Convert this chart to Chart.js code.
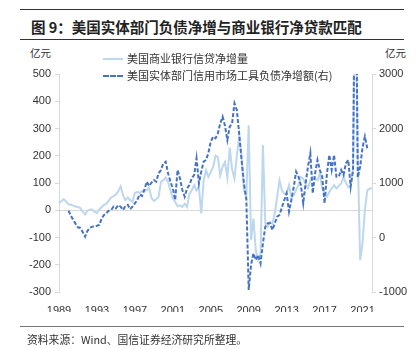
<!DOCTYPE html>
<html>
<head>
<meta charset="utf-8">
<script src="https://cdn.jsdelivr.net/npm/chart.js@4/dist/chart.umd.min.js"></script>
<style>
  body { margin: 0; background: #fff; }
  #wrap { position: relative; width: 419px; height: 349px; font-family: "Noto Sans CJK SC", sans-serif; color: #222; }
  .rule { position: absolute; left: 20px; width: 384px; border-top: 1.5px solid #333; }
  .title { position: absolute; left: 31px; top: 17px; font-size: 14.5px; font-weight: 700; white-space: nowrap; line-height: 20px; }
  .unit { position: absolute; top: 45px; font-size: 10.5px; line-height: 16px; color: #333; }
  .leg { position: absolute; left: 127px; font-size: 11px; line-height: 16px; color: #333; white-space: nowrap; z-index: 2; }
  .swatch { position: absolute; left: 103px; width: 20px; height: 0; z-index: 2; }
  .source { position: absolute; left: 27px; top: 331px; font-size: 10.8px; line-height: 16px; color: #333; white-space: nowrap; }
  canvas { position: absolute; left: 0; top: 0; }
</style>
</head>
<body>
<div id="wrap">
  <div class="rule" style="top:9px"></div>
  <div class="title">图 9：美国实体部门负债净增与商业银行净贷款匹配</div>
  <div class="rule" style="top:39px;border-top-width:1px"></div>
  <div class="unit" style="left:30px">亿元</div>
  <div class="unit" style="left:385px">亿元</div>
  <canvas id="chart" width="419" height="349"></canvas>
  <div class="swatch" style="top:58px;border-top:2px solid #bdd7ee"></div>
  <div class="leg" style="top:50px">美国商业银行信贷净增量</div>
  <div class="swatch" style="top:75px;border-top:2px dashed #4472c4"></div>
  <div class="leg" style="top:67px">美国实体部门信用市场工具负债净增额(右)</div>
  <div class="rule" style="top:326px;border-top:1.5px solid #777"></div>
  <div class="source">资料来源：Wind、国信证券经济研究所整理。</div>
</div>
<script>
// quarterly, 1989Q1 .. 2022Q1
const firstYear = 1989;
const lastYear = 2022;
const tickYears = [1989, 1993, 1997, 2001, 2005, 2009, 2013, 2017, 2021];

const quarters = [];
for (let y = firstYear; y <= lastYear; y++) {
  for (let q = 1; q <= 4; q++) {
    if (y === lastYear && q > 1) break;
    quarters.push(y + 'Q' + q);
  }
}

// 美国商业银行信贷净增量 (left axis)
const bankCredit = [
  27, 33, 41, 32, 22, 20, 17, 14, 12, 8,
  -5, -15, -2, 2, 3, -6, -10, 3, 12, 20,
  24, 35, 47, 52, 58, 70, 88, 55, 37, 47,
  38, 31, 64, 67, 64, 70, 73, 73, 83, 45,
  34, 40, 49, 104, 110, 120, 104, 73, 45, 30,
  15, 18, 12, 24, 12, 60, 73, 92, 73, 86,
  -12, 110, 147, 122, 140, 159, 200, 196, 128, 160,
  177, 120, 230, 150, 116, 200, 270, 196, 73, 49,
  312, -110, -31, -147, -183, -159, 239, -49, -61, -43,
  -49, -12, 49, 110, 73, 61, 61, 92, 45, 55,
  75, 92, 122, 116, 95, 80, 110, 122, 115, 110,
  135, 80, 61, 49, 67, 80, 92, 80, 90, 98,
  122, 100, 85, 90, 147, 900, 200, -183, -122, 0,
  73, 80, 80
];

// 美国实体部门信用市场工具负债净增额 (right axis)
const creditMarketDebt = [
  null, null, null, null, 492, 400, 321, 250, 187, 175,
  100, 15, 120, 180, 195, 211, 215, 230, 352, 413,
  450, 492, 505, 565, 536, 596, 565, 505, 580, 600,
  520, 565, 627, 688, 790, 761, 872, 1024, 945, 1006,
  1055, 1024, 1178, 1239, 1361, 1391, 1178, 1024, 903, 688,
  1239, 1086, 872, 750, 903, 963, 1086, 1147, 1453, 994,
  1208, 1391, 1422, 1550, 1758, 1850, 1820, 1911, 2095, 2217,
  2050, 1789, 2033, 2095, 2462, 2339, 1900, 1422, 994, 700,
  -963, -500, -290, -413, -321, -474, -107, 199, 260, 260,
  138, 260, 382, 413, 550, 688, 810, 474, 688, 932,
  1208, 1116, 963, 627, 994, 1300, 1545, 810, 1178, 1422,
  1239, 1116, 627, 1178, 1514, 1239, 1514, 1116, 1116, 1239,
  1147, 1361, 1422, 932, 1239, 6000, 1100, 1300, 1650, 1850,
  1637, null, null
];

const tickFont = { family: 'Liberation Sans', size: 11 };
const axisGrey = '#d9d9d9';

new Chart(document.getElementById('chart'), {
  type: 'line',
  data: {
    labels: quarters,
    datasets: [
      {
        label: '美国商业银行信贷净增量',
        data: bankCredit,
        yAxisID: 'y',
        borderColor: '#bdd7ee',
        borderWidth: 2,
        pointRadius: 0,
        order: 2
      },
      {
        label: '美国实体部门信用市场工具负债净增额(右)',
        data: creditMarketDebt,
        yAxisID: 'y1',
        borderColor: '#4472c4',
        borderWidth: 2,
        borderDash: [4, 2],
        pointRadius: 0,
        order: 1
      }
    ]
  },
  options: {
    responsive: false,
    animation: false,
    devicePixelRatio: 1,
    layout: { padding: { top: 74, bottom: 37, left: 0, right: 0 } },
    plugins: { legend: { display: false }, tooltip: { enabled: false } },
    scales: {
      x: {
        type: 'category',
        grid: { display: false },
        border: { display: false },
        ticks: {
          font: tickFont, color: '#333', maxRotation: 0, autoSkip: false, padding: 4,
          callback: function (v) { return this.getLabelForValue(v).slice(0, 4); }
        },
        afterBuildTicks: axis => {
          axis.ticks = axis.ticks.filter(t => {
            const lab = quarters[t.value];
            return lab.endsWith('Q1') && tickYears.includes(+lab.slice(0, 4));
          });
        },
        afterFit: s => { s.height = 20; }
      },
      y: {
        position: 'left',
        min: -300, max: 500,
        ticks: { stepSize: 100, font: tickFont, color: '#333', padding: 4 },
        grid: {
          color: c => (c.tick && c.tick.value === 0 ? axisGrey : 'rgba(0,0,0,0)'),
          tickColor: axisGrey,
          tickLength: 4
        },
        border: { color: axisGrey },
        afterFit: s => { s.width = 59; }
      },
      y1: {
        position: 'right',
        min: -1000, max: 3000,
        ticks: { stepSize: 1000, font: tickFont, color: '#333', padding: 3, callback: v => String(v) },
        grid: { drawOnChartArea: false, tickColor: axisGrey, tickLength: 4 },
        border: { color: axisGrey },
        afterFit: s => { s.width = 47; }
      }
    }
  }
});
</script>
</body>
</html>
